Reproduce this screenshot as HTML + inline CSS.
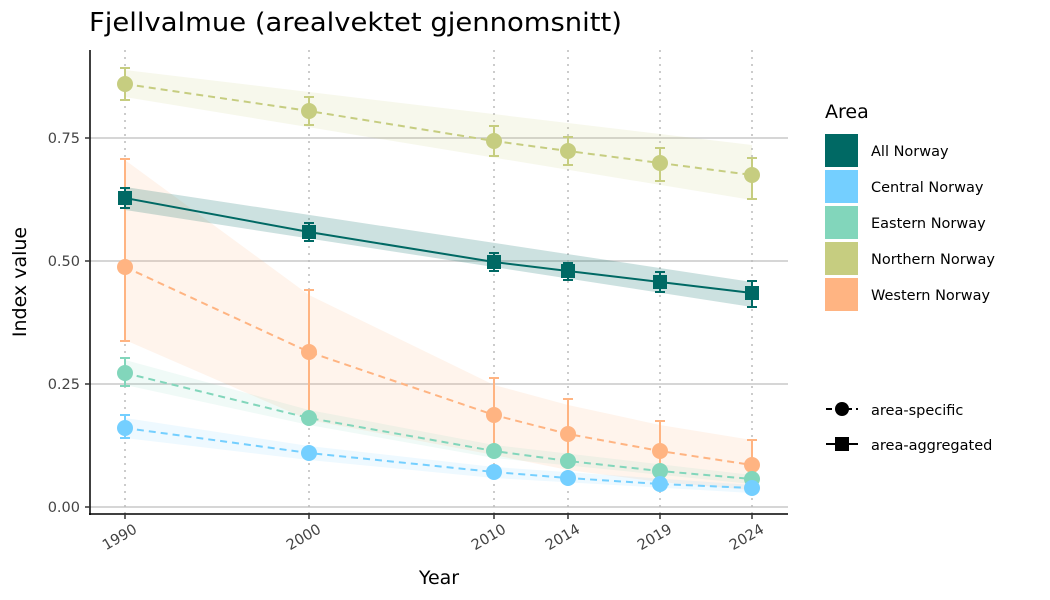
<!DOCTYPE html>
<html><head><meta charset="utf-8"><style>body{margin:0;background:#fff}svg{display:block;font-family:"DejaVu Sans","Liberation Sans",sans-serif}</style></head>
<body>
<svg width="1050" height="600" viewBox="0 0 1050 600" xmlns="http://www.w3.org/2000/svg">
<rect width="1050" height="600" fill="#fff"/>
<text x="89" y="31" font-size="26" fill="#000" textLength="533" lengthAdjust="spacingAndGlyphs">Fjellvalmue (arealvektet gjennomsnitt)</text>
<g stroke="#c8c8c8" stroke-width="1.5">
<line x1="90" x2="788" y1="507" y2="507"/><line x1="90" x2="788" y1="384" y2="384"/>
<line x1="90" x2="788" y1="261" y2="261"/><line x1="90" x2="788" y1="138" y2="138"/>
</g>
<g stroke="#bbb" stroke-width="1.5" stroke-dasharray="2,5">
<line x1="125" x2="125" y1="50" y2="514"/><line x1="309" x2="309" y1="50" y2="514"/>
<line x1="494" x2="494" y1="50" y2="514"/><line x1="568" x2="568" y1="50" y2="514"/>
<line x1="660" x2="660" y1="50" y2="514"/><line x1="752" x2="752" y1="50" y2="514"/>
</g>
<polygon points="125,70 752,145 752,200 125,97" fill="#c6cd80" opacity="0.15"/>
<polygon points="125,160 309,295 494,385 568,405 660,425 752,440 752,490 660,482 568,470 494,455 309,420 125,340" fill="#ffb482" opacity="0.15"/>
<polygon points="125,360 309,410 494,445 752,475 752,484 494,458 309,425 125,385" fill="#82d6bb" opacity="0.12"/>
<polygon points="125,418 309,446 494,467 752,485 752,493 494,478 309,460 125,438" fill="#74cfff" opacity="0.12"/>
<polygon points="125,187 752,282 752,307 125,210" fill="#006964" opacity="0.2"/>
<g stroke-width="2" fill="none">
<g stroke="#c6cd80"><path d="M125,68V100M120,68H130M120,100H130M309,97V125M304,97H314M304,125H314M494,126V156M489,126H499M489,156H499M568,137V165M563,137H573M563,165H573M660,148V181M655,148H665M655,181H665M752,158V199M747,158H757M747,199H757"/></g>
<g stroke="#ffb482"><path d="M125,159V341M120,159H130M120,341H130M309,290V414M304,290H314M304,414H314M494,378V448M489,378H499M489,448H499M568,399V459M563,399H573M563,459H573M660,421V475M655,421H665M655,475H665M752,440V485M747,440H757M747,485H757"/></g>
<g stroke="#82d6bb"><path d="M125,358V386M120,358H130M120,386H130"/></g>
<g stroke="#74cfff"><path d="M125,415V438M120,415H130M120,438H130"/></g>
<g stroke="#006964"><path d="M125,188V208M120,188H130M120,208H130M309,223V241M304,223H314M304,241H314M494,253V271M489,253H499M489,271H499M568,263V280M563,263H573M563,280H573M660,272V292M655,272H665M655,292H665M752,281V307M747,281H757M747,307H757"/></g>
</g>
<g fill="none" stroke-width="2">
<polyline stroke="#c6cd80" stroke-dasharray="7,5" points="125,84 309,111 494,141 568,151 660,163 752,175"/>
<polyline stroke="#ffb482" stroke-dasharray="7,5" points="125,267 309,352 494,415 568,434 660,451 752,465"/>
<polyline stroke="#82d6bb" stroke-dasharray="7,5" points="125,373 309,418 494,451 568,461 660,471 752,479"/>
<polyline stroke="#74cfff" stroke-dasharray="7,5" points="125,428 309,453 494,472 568,478 660,484 752,488"/>
<polyline stroke="#006964" points="125,198 309,232 494,262 568,271 660,282 752,293"/>
</g>
<g fill="#c6cd80"><circle cx="125" cy="84" r="8"/><circle cx="309" cy="111" r="8"/><circle cx="494" cy="141" r="8"/><circle cx="568" cy="151" r="8"/><circle cx="660" cy="163" r="8"/><circle cx="752" cy="175" r="8"/></g>
<g fill="#ffb482"><circle cx="125" cy="267" r="8"/><circle cx="309" cy="352" r="8"/><circle cx="494" cy="415" r="8"/><circle cx="568" cy="434" r="8"/><circle cx="660" cy="451" r="8"/><circle cx="752" cy="465" r="8"/></g>
<g fill="#82d6bb"><circle cx="125" cy="373" r="8"/><circle cx="309" cy="418" r="8"/><circle cx="494" cy="451" r="8"/><circle cx="568" cy="461" r="8"/><circle cx="660" cy="471" r="8"/><circle cx="752" cy="479" r="8"/></g>
<g fill="#74cfff"><circle cx="125" cy="428" r="8"/><circle cx="309" cy="453" r="8"/><circle cx="494" cy="472" r="8"/><circle cx="568" cy="478" r="8"/><circle cx="660" cy="484" r="8"/><circle cx="752" cy="488" r="8"/></g>
<g fill="#006964"><rect x="118" y="191" width="14" height="14"/><rect x="302" y="225" width="14" height="14"/><rect x="487" y="255" width="14" height="14"/><rect x="561" y="264" width="14" height="14"/><rect x="653" y="275" width="14" height="14"/><rect x="745" y="286" width="14" height="14"/></g>
<g stroke="#000" stroke-width="1.5"><line x1="90" y1="50" x2="90" y2="515"/><line x1="89" y1="514" x2="788" y2="514"/></g>
<g stroke="#333" stroke-width="1.5"><path d="M85,507H90M85,384H90M85,261H90M85,138H90M125,514V519M309,514V519M494,514V519M568,514V519M660,514V519M752,514V519"/></g>
<g font-size="14.5" fill="#444" text-anchor="end"><text x="80" y="512">0.00</text><text x="80" y="389">0.25</text><text x="80" y="266">0.50</text><text x="80" y="143">0.75</text></g>
<g font-size="14.5" fill="#444" text-anchor="end">
<text transform="translate(138,532) rotate(-30)">1990</text><text transform="translate(322,532) rotate(-30)">2000</text><text transform="translate(507,532) rotate(-30)">2010</text><text transform="translate(581,532) rotate(-30)">2014</text><text transform="translate(673,532) rotate(-30)">2019</text><text transform="translate(765,532) rotate(-30)">2024</text></g>
<text x="439" y="584" font-size="19" text-anchor="middle">Year</text>
<text transform="translate(26,282) rotate(-90)" font-size="19" text-anchor="middle">Index value</text>
<text x="825" y="118" font-size="19">Area</text>
<rect x="825" y="134" width="33" height="33" fill="#006964"/>
<rect x="825" y="170" width="33" height="33" fill="#74cfff"/>
<rect x="825" y="206" width="33" height="33" fill="#82d6bb"/>
<rect x="825" y="242" width="33" height="33" fill="#c6cd80"/>
<rect x="825" y="278" width="33" height="33" fill="#ffb482"/>
<g font-size="14.5" fill="#000"><text x="871" y="156">All Norway</text><text x="871" y="192">Central Norway</text><text x="871" y="228">Eastern Norway</text><text x="871" y="264">Northern Norway</text><text x="871" y="300">Western Norway</text>
<text x="871" y="415">area-specific</text><text x="871" y="450">area-aggregated</text></g>
<g stroke="#000" stroke-width="2"><line x1="826" y1="409" x2="858" y2="409" stroke-dasharray="6,4"/><line x1="826" y1="444" x2="858" y2="444"/></g>
<circle cx="842" cy="409" r="7"/><rect x="835" y="437" width="14" height="14"/>
</svg>
</body></html>
